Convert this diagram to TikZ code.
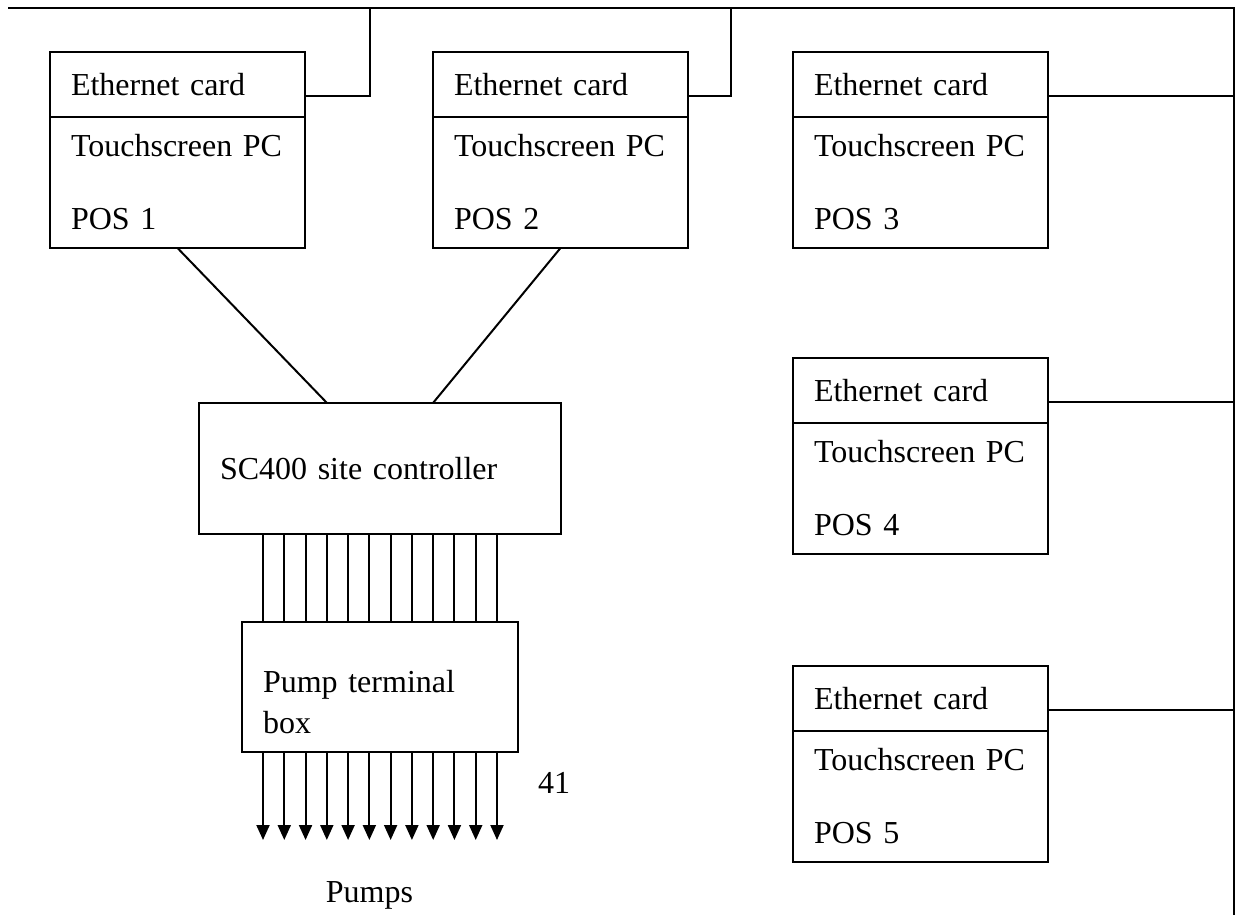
\documentclass[tikz,border=0pt]{standalone}
\usepackage{fontspec}
\setmainfont{Liberation Serif}
\usetikzlibrary{arrows.meta,positioning}

\begin{document}
\begin{tikzpicture}[x=0.5pt, y=-0.5pt, line width=1pt, node distance=0pt]
    \tikzstyle{box}=[draw, rectangle, outer sep=0pt, inner xsep=10.5pt, align=left, font=\fontsize{16pt}{20.5pt}\selectfont]
    \tikzstyle{card}=[box, anchor=north west, minimum width=127.5pt, minimum height=32.5pt, text width=106.5pt]
    \tikzstyle{pc}=[box, minimum width=127.5pt, minimum height=65.5pt, text width=106.5pt, font=\fontsize{16pt}{36.5pt}\selectfont]
    \tikzstyle{lbl}=[font=\fontsize{16pt}{20.5pt}\selectfont, inner sep=0pt]
    \tikzstyle{pumpline}=[-{Triangle[length=7.5pt,width=6.5pt]}]

    \useasboundingbox (0,0) rectangle (1245,915);

    % the five tills
    \node[card] (eth1) at (50,52) {Ethernet card};
    \node[pc] (pc1) [below=of eth1] {Touchscreen~PC\\POS 1};
    \node[card] (eth2) at (433,52) {Ethernet card};
    \node[pc] (pc2) [below=of eth2] {Touchscreen~PC\\POS 2};
    \node[card] (eth3) at (793,52) {Ethernet card};
    \node[pc] (pc3) [below=of eth3] {Touchscreen~PC\\POS 3};
    \node[card] (eth4) at (793,358) {Ethernet card};
    \node[pc] (pc4) [below=of eth4] {Touchscreen~PC\\POS 4};
    \node[card] (eth5) at (793,666) {Ethernet card};
    \node[pc] (pc5) [below=of eth5] {Touchscreen~PC\\POS 5};

    % controller and terminal box
    \node[box, anchor=north west, minimum width=181pt, minimum height=65.5pt, text width=160pt] (sc) at (199,403) {SC400 site controller};
    \node[box, anchor=north west, minimum width=138pt, minimum height=65pt, text width=117pt, text height=26.5pt] (ptb) at (242,622) {Pump terminal\\box};

    \node[lbl, anchor=base] (count) at (554,793) {41};
    \node[lbl, anchor=base] (pumps) at (369.5,902) {Pumps};

    % network bus
    \coordinate (busL) at (8,8);
    \coordinate (busR) at (1234,8);
    \coordinate (busB) at (1234,915);
    \coordinate (tap1) at (370,8);
    \coordinate (tap2) at (731,8);
    \draw (busL) -- (busR) -- (busB);
    \foreach \n in {1,...,5}
        \coordinate (port\n) at ([yshift=-5.75pt]eth\n.east);
    \draw (port1) -| (tap1);
    \draw (port2) -| (tap2);
    \foreach \n in {3,4,5}
        \draw (port\n) -- (port\n -| busR);

    \path
    (pc1.south) edge [] ([xshift=-26.5pt]sc.north)
    (pc2.south) edge [] ([xshift=26.5pt]sc.north);

    % wires to the pumps
    \foreach \k in {0,...,11} {
        \draw ([xshift={(\k-5.5)*10.636pt}]sc.south) -- ([xshift={(\k-5.5)*10.636pt}]ptb.north);
        \draw[pumpline] ([xshift={(\k-5.5)*10.636pt}]ptb.south) -- ++(0,88);
    }

\end{tikzpicture}
\end{document}
